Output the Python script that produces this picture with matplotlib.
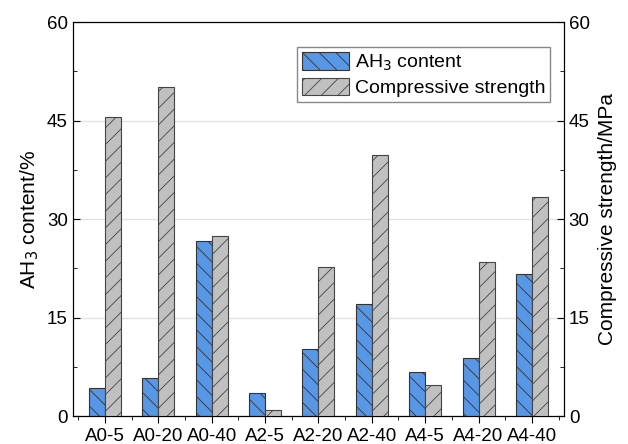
import numpy as np
import matplotlib.pyplot as plt
from matplotlib.ticker import MultipleLocator

plt.rcParams['font.family'] = ['Liberation Sans', 'DejaVu Sans']
plt.rcParams['hatch.linewidth'] = 0.6

# Sample groups and measured values
samples = ['A0-5', 'A0-20', 'A0-40', 'A2-5', 'A2-20', 'A2-40', 'A4-5', 'A4-20', 'A4-40']
ah3_content = [4.3, 5.8, 26.7, 3.5, 10.2, 17.1, 6.7, 8.8, 21.7]
strength = [45.5, 50.1, 27.5, 0.9, 22.7, 39.7, 4.7, 23.5, 33.3]

x = np.arange(len(samples))
w = 0.3

fig, ax = plt.subplots(figsize=(6.28, 4.44), dpi=100)
ax2 = ax.twinx()

ax.set_axisbelow(True)
ax.yaxis.grid(True, color='#e3e3e3', linewidth=1.0)

b1 = ax.bar(x - w / 2, ah3_content, w, color='#5896e6', edgecolor='#333333',
            linewidth=0.8, hatch='\\\\', label='AH$_3$ content', zorder=3)
b2 = ax2.bar(x + w / 2, strength, w, color='#c0c0c0', edgecolor='#444444',
             linewidth=0.8, hatch='//', label='Compressive strength', zorder=3)

ax.set_xlim(-0.6, 8.6)
ax.set_ylim(0, 60)
ax2.set_ylim(0, 60)
for a in (ax, ax2):
    a.yaxis.set_major_locator(MultipleLocator(15))
    a.yaxis.set_minor_locator(MultipleLocator(7.5))

ax.set_xticks(x)
ax.set_xticklabels(samples)
ax.set_xticks(np.r_[-0.5, x + 0.5], minor=True)

ax.tick_params(axis='x', which='both', direction='out', labelsize=13.5)
ax.tick_params(axis='x', which='major', length=5)
ax.tick_params(axis='x', which='minor', length=3)
ax.tick_params(axis='y', which='both', direction='in', labelsize=13.5)
ax.tick_params(axis='y', which='major', length=5)
ax.tick_params(axis='y', which='minor', length=3)
ax2.tick_params(axis='y', which='both', direction='in', labelsize=13.5)
ax2.tick_params(axis='y', which='major', length=5)
ax2.tick_params(axis='y', which='minor', length=3)

ax.set_ylabel('AH$_3$ content/%', fontsize=15, labelpad=4)
ax2.set_ylabel('Compressive strength/MPa', fontsize=15, labelpad=6)

ax.legend(handles=[b1, b2], loc='upper right', bbox_to_anchor=(0.9715, 0.936),
          fontsize=14, fancybox=False, edgecolor='#888888', framealpha=1,
          handlelength=2.4, handleheight=1.0, borderpad=0.25, labelspacing=0.25,
          handletextpad=0.3, borderaxespad=0)

fig.subplots_adjust(left=0.116, right=0.898, top=0.95, bottom=0.063)
fig.savefig('out.png', dpi=100)
